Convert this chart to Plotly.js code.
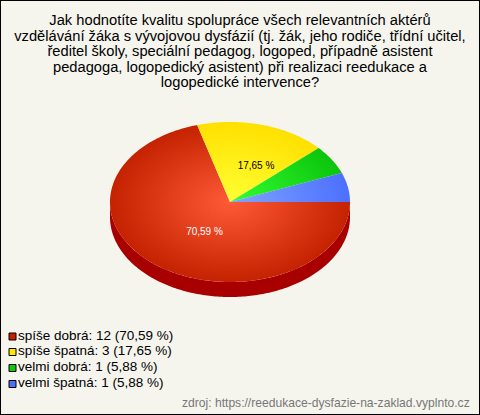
<!DOCTYPE html>
<html><head><meta charset="utf-8">
<script src="https://cdn.plot.ly/plotly-3.0.1.min.js"></script>
<style>html,body{margin:0;padding:0;background:#f5f5ee}</style></head>
<body><div id="chart" style="width:480px;height:415px"></div>
<script>
const categories = ['spíše dobrá','spíše špatná','velmi dobrá','velmi špatná'];
const values = [12,3,1,1];
const percentText = ['70,59 %','17,65 %','5,88 %','5,88 %'];
const legendText = ['spíše dobrá: 12 (70,59 %)','spíše špatná: 3 (17,65 %)','velmi dobrá: 1 (5,88 %)','velmi špatná: 1 (5,88 %)'];
const innerColors = ['#ff5a38','#ffff33','#33ff33','#80a4ff'];
const outerColors = ['#c42200','#ffe000','#0cc40c','#4c70ff'];
const swatchColors = ['#c42000','#ffe600','#10c810','#4c70ff'];
const sideColor = '#a80000';
const titleLines = ['Jak hodnotíte kvalitu spolupráce všech relevantních aktérů','vzdělávání žáka s vývojovou dysfázií (tj. žák, jeho rodiče, třídní učitel,','ředitel školy, speciální pedagog, logoped, případně asistent','pedagoga, logopedický asistent) při realizaci reedukace a','logopedické intervence?'];
const sourceText = 'zdroj: https://reedukace-dysfazie-na-zaklad.vyplnto.cz';

const cx=230, cy=202, rx=120, ry=80, depth=15;
const total = values.reduce((a,b)=>a+b,0);
const pt=(deg,dy=0)=>[cx+rx*Math.cos(deg*Math.PI/180), cy+dy+ry*Math.sin(deg*Math.PI/180)];
const traces=[];
let start=0; const slices=[];
values.forEach((v,i)=>{const end=start+v/total*360; slices.push([start,end]); start=end;});

slices.forEach(([a,b])=>{
  const s=Math.max(a,0), e=Math.min(b,180);
  if(e<=s) return;
  const X=[],Y=[];
  for(let d=s;d<=e;d+=1){const p=pt(d);X.push(p[0]);Y.push(p[1]);}
  for(let d=e;d>=s;d-=1){const p=pt(d,depth);X.push(p[0]);Y.push(p[1]);}
  traces.push({x:X,y:Y,type:'scatter',mode:'lines',fill:'toself',fillcolor:sideColor,line:{width:0,simplify:false},hoverinfo:'skip',showlegend:false});
});

slices.forEach(([a,b],i)=>{
  const X=[],Y=[];
  [[cx-rx,cy],[cx+rx,cy],[cx,cy-ry],[cx,cy+ry]].forEach(q=>{X.push(cx,q[0]);Y.push(cy,q[1]);});
  X.push(cx);Y.push(cy);
  const n=Math.ceil(b-a);
  for(let k=0;k<=n;k++){const p=pt(a+(b-a)*k/n);X.push(p[0]);Y.push(p[1]);}
  X.push(cx);Y.push(cy);
  traces.push({x:X,y:Y,type:'scatter',mode:'lines',name:categories[i],fill:'toself',
    fillgradient:{type:'radial',colorscale:[[0,innerColors[i]],[1,outerColors[i]]]},
    line:{width:0,simplify:false},hoverinfo:'skip',showlegend:false});
});

traces.push({x:[204.5,256],y:[232,166],text:percentText.slice(0,2),type:'scatter',mode:'text',
  textfont:{family:'Liberation Sans, Arial, sans-serif',size:10,color:['#ffffff','#000000']},hoverinfo:'skip',showlegend:false});

traces.push({x:[12.5,12.5,12.5,12.5],y:[336.5,352,368,384],text:legendText,type:'scatter',mode:'markers+text',textposition:'middle right',
  marker:{symbol:'square',size:7,color:swatchColors,line:{color:'#000',width:1}},
  textfont:{family:'Liberation Sans, Arial, sans-serif',size:13.5,color:'#000'},hoverinfo:'skip',showlegend:false});

const layout={width:480,height:415,margin:{l:0,r:0,t:0,b:0},paper_bgcolor:'#f5f5ee',plot_bgcolor:'#f5f5ee',showlegend:false,
  title:{text:titleLines.join('<br>'),x:0.5,xanchor:'center',y:1,yanchor:'top',pad:{t:14},font:{family:'Liberation Sans, Arial, sans-serif',size:14.7,color:'#000'}},
  xaxis:{range:[0,480],visible:false,fixedrange:true},
  yaxis:{range:[415,0],visible:false,fixedrange:true},
  shapes:[{type:'rect',xref:'paper',yref:'paper',x0:0,x1:1,y0:0,y1:1,line:{color:'#000',width:2},fillcolor:'rgba(0,0,0,0)',layer:'above'}],
  annotations:[{x:472,y:403,xref:'x',yref:'y',xanchor:'right',yanchor:'middle',showarrow:false,text:sourceText,font:{family:'Liberation Sans, Arial, sans-serif',size:12.1,color:'#777'}}]
};
Plotly.newPlot('chart',traces,layout,{displayModeBar:false,staticPlot:true}).then(()=>{
  // set the title's baseline and line spacing to the reference's (25 px, 15.6 px)
  const g=document.querySelector('.gtitle');
  g.removeAttribute('transform');
  g.setAttribute('y',25);
  g.querySelectorAll('tspan.line').forEach((t,i)=>{t.removeAttribute('y');t.setAttribute('dy',i?'15.6':'0');});
});
</script></body></html>
